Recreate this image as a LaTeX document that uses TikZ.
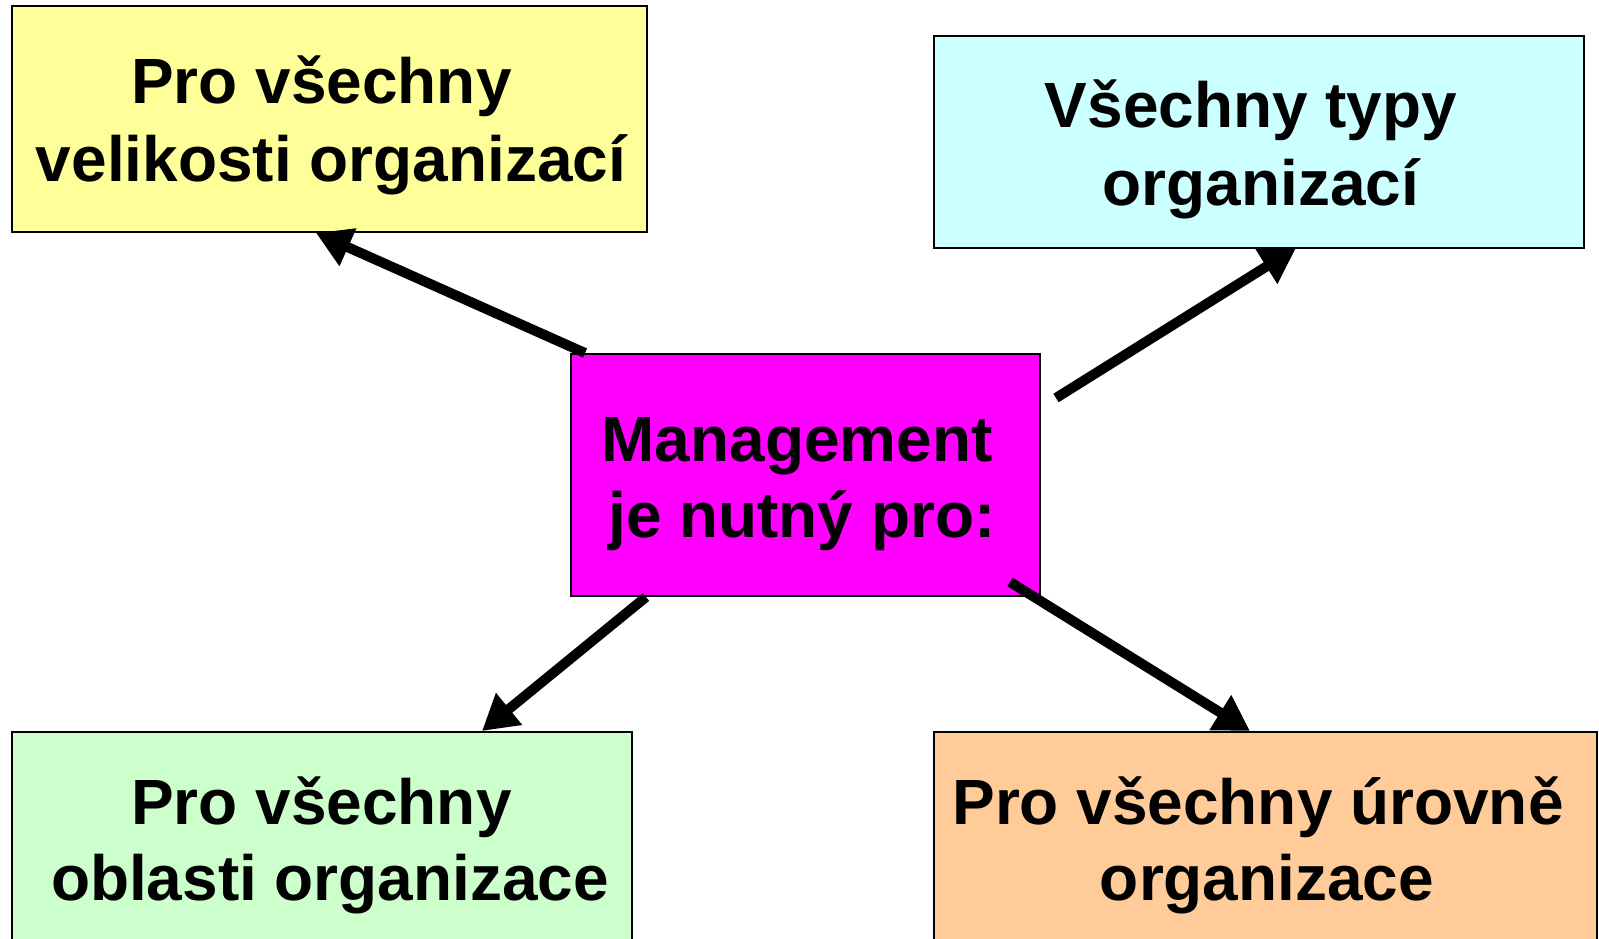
\documentclass[tikz,border=0pt]{standalone}
\usepackage{fontspec}
\setmainfont{Liberation Sans}
\usetikzlibrary{arrows.meta}
\definecolor{cyel}{HTML}{FFFF99}
\definecolor{ccya}{HTML}{CCFFFF}
\definecolor{cmag}{HTML}{FF00FF}
\definecolor{cgrn}{HTML}{CCFFCC}
\definecolor{corg}{HTML}{FFCC99}
\tikzset{
  box/.style={draw=black, line width=1pt, rectangle, inner sep=0pt},
  txt/.style={inner sep=0pt, anchor=base, font=\fontsize{36.4}{43.8}\selectfont\bfseries},
  conn/.style={line width=0.2cm, line cap=butt, -{Triangle[length=0.7cm,width=0.78cm]}}
}
\begin{document}
\begin{tikzpicture}[x=0.02cm,y=-0.02cm]
\useasboundingbox (0,0) rectangle (1599,939);
\begin{scope}
\clip (0,0) rectangle (1599,939);
% boxes
\node[box, fill=cyel, minimum width=12.7cm, minimum height=4.52cm] (yel) at (329.5,119) {};
\node[box, fill=ccya, minimum width=13cm, minimum height=4.24cm] (cya) at (1259,142) {};
\node[box, fill=cmag, minimum width=9.38cm, minimum height=4.84cm] (mag) at (805.5,475) {};
\node[box, fill=cgrn, minimum width=12.4cm, minimum height=5.6cm] (grn) at (322,872) {};
\node[box, fill=corg, minimum width=13.26cm, minimum height=5.6cm] (org) at (1265.5,872) {};
\end{scope}
% texts
\node[txt] (yel1) at (321.5,104) {Pro všechny};
\node[txt] (yel2) at (331,182) {velikosti organizací};
\node[txt] (cya1) at (1251,128) {Všechny typy};
\node[txt] (cya2) at (1261,206) {organizací};
\node[txt] (mag1) at (797,461) {Management};
\node[txt] (mag2) at (802,537) {je nutný pro:};
\node[txt] (grn1) at (321.5,824) {Pro všechny};
\node[txt] (grn2) at (330,900) {oblasti organizace};
\node[txt] (org1) at (1258,824) {Pro všechny úrovně};
\node[txt] (org2) at (1267,900) {organizace};
% connector ends
\coordinate (t1) at (585,353);
\coordinate (h1) at (316,233);
\coordinate (t2) at (1056,398);
\coordinate (h2) at (1296,248);
\coordinate (t3) at (646,597);
\coordinate (h3) at (482,731);
\coordinate (t4) at (1010,582);
\coordinate (h4) at (1250,731);
\draw[conn] (t1) -- (h1);
\draw[conn] (t2) -- (h2);
\draw[conn] (t3) -- (h3);
\draw[conn] (t4) -- (h4);
\end{tikzpicture}
\end{document}
